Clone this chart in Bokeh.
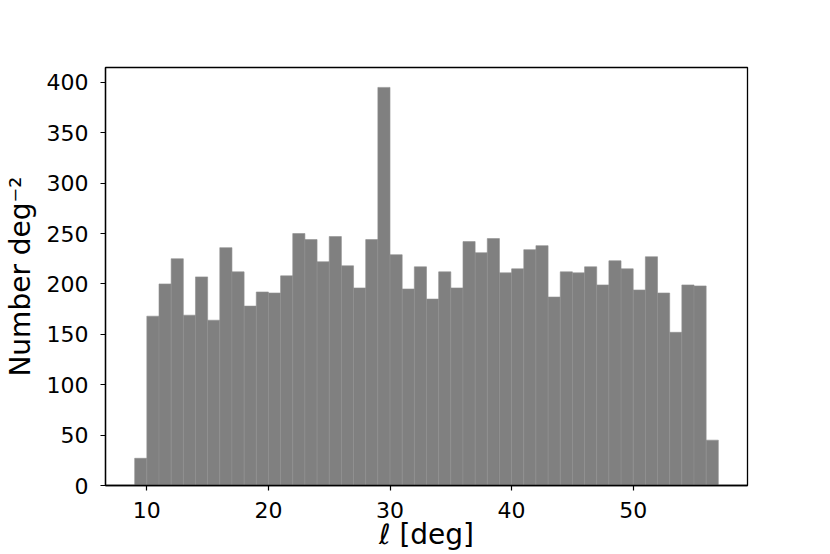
from bokeh.plotting import figure
from bokeh.models import Range1d, FixedTicker, ColumnDataSource
from bokeh.embed import file_html
from bokeh.resources import INLINE

# Histogram: 1-degree bins in Galactic longitude
bin_left = list(range(9, 57))
counts = [27, 168, 200, 225, 169, 207, 164, 236, 212, 178,
          192, 191, 208, 250, 244, 222, 247, 218, 196, 244,
          395, 229, 195, 217, 185, 212, 196, 242, 231, 245,
          211, 215, 234, 238, 187, 212, 211, 217, 199, 223,
          215, 194, 227, 191, 152, 199, 198, 45]
bin_width = 1.0
x_ticks = [10, 20, 30, 40, 50]
y_ticks = [0, 50, 100, 150, 200, 250, 300, 350, 400]
x_label = "ℓ [deg]"
y_label = "Number deg⁻²"

src = ColumnDataSource(dict(
    left=bin_left,
    right=[b + bin_width for b in bin_left],
    top=counts,
))

xmin, xmax = min(bin_left), max(bin_left) + bin_width
xpad = 0.05 * (xmax - xmin)
ymax = max(counts) * 1.05

FONT = "DejaVu Sans"

p = figure(width=830, height=554, output_backend="svg", toolbar_location=None,
           x_range=Range1d(xmin - xpad, xmax + xpad), y_range=Range1d(0, ymax),
           min_border_left=104, min_border_right=83, min_border_top=67,
           min_border_bottom=69)

p.quad(left="left", right="right", bottom=0, top="top", source=src,
       fill_color="#808080", line_color="#8e8e8e", line_width=0.6)

p.grid.visible = False
p.outline_line_color = "black"
p.outline_line_width = 1.3
p.background_fill_color = "white"
p.border_fill_color = "white"

p.xaxis.ticker = FixedTicker(ticks=x_ticks)
p.yaxis.ticker = FixedTicker(ticks=y_ticks)
for ax in (p.xaxis[0], p.yaxis[0]):
    ax.axis_line_color = "black"
    ax.axis_line_width = 1.3
    ax.major_tick_line_color = "black"
    ax.major_tick_line_width = 1.2
    ax.major_tick_in = 0
    ax.major_tick_out = 5
    ax.minor_tick_line_color = None
    ax.major_label_text_font = FONT
    ax.major_label_text_font_size = "22px"
    ax.major_label_text_color = "black"
    ax.axis_label_text_font = FONT
    ax.axis_label_text_font_size = "28px"
    ax.axis_label_text_font_style = "normal"
    ax.axis_label_text_color = "black"

p.xaxis.axis_label = x_label
p.yaxis.axis_label = y_label
p.xaxis.major_label_standoff = 11
p.yaxis.major_label_standoff = 12
p.xaxis.axis_label_standoff = -3
p.yaxis.axis_label_standoff = 7

open("out.html", "w").write(file_html(p, INLINE))
